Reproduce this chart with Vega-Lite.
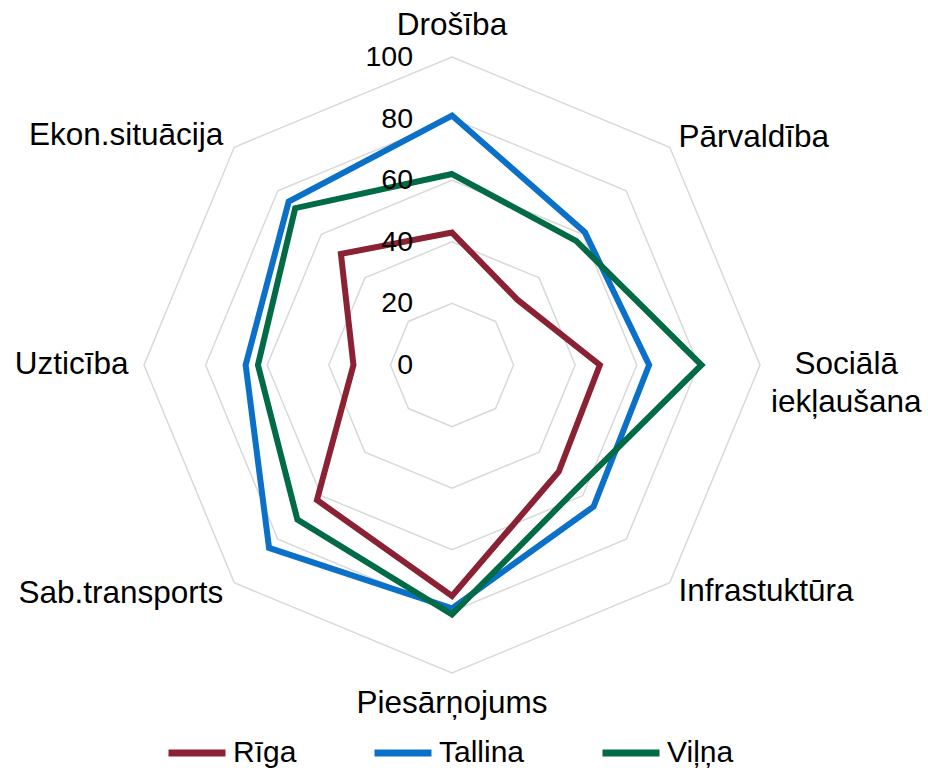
{
  "$schema": "https://vega.github.io/schema/vega-lite/v6.json",
  "width": 616,
  "height": 616,
  "autosize": {"type": "none"},
  "padding": {"left": 144, "top": 57, "right": 168, "bottom": 100},
  "background": "white",
  "config": {"view": {"stroke": null}, "font": "Liberation Sans"},
  "datasets": {
    "scores": [
      {"cat": "Drošība", "k": 0, "series": "Rīga", "value": 43},
      {"cat": "Pārvaldība", "k": 1, "series": "Rīga", "value": 30},
      {"cat": "Sociālā iekļaušana", "k": 2, "series": "Rīga", "value": 48},
      {"cat": "Infrastuktūra", "k": 3, "series": "Rīga", "value": 49},
      {"cat": "Piesārņojums", "k": 4, "series": "Rīga", "value": 75},
      {"cat": "Sab.transports", "k": 5, "series": "Rīga", "value": 62},
      {"cat": "Uzticība", "k": 6, "series": "Rīga", "value": 32},
      {"cat": "Ekon.situācija", "k": 7, "series": "Rīga", "value": 51},
      {"cat": "Drošība", "k": 0, "series": "Tallina", "value": 81},
      {"cat": "Pārvaldība", "k": 1, "series": "Tallina", "value": 61},
      {"cat": "Sociālā iekļaušana", "k": 2, "series": "Tallina", "value": 64},
      {"cat": "Infrastuktūra", "k": 3, "series": "Tallina", "value": 65},
      {"cat": "Piesārņojums", "k": 4, "series": "Tallina", "value": 79},
      {"cat": "Sab.transports", "k": 5, "series": "Tallina", "value": 84},
      {"cat": "Uzticība", "k": 6, "series": "Tallina", "value": 67},
      {"cat": "Ekon.situācija", "k": 7, "series": "Tallina", "value": 75},
      {"cat": "Drošība", "k": 0, "series": "Viļņa", "value": 62},
      {"cat": "Pārvaldība", "k": 1, "series": "Viļņa", "value": 57},
      {"cat": "Sociālā iekļaušana", "k": 2, "series": "Viļņa", "value": 81},
      {"cat": "Infrastuktūra", "k": 3, "series": "Viļņa", "value": 57},
      {"cat": "Piesārņojums", "k": 4, "series": "Viļņa", "value": 81},
      {"cat": "Sab.transports", "k": 5, "series": "Viļņa", "value": 71},
      {"cat": "Uzticība", "k": 6, "series": "Viļņa", "value": 63},
      {"cat": "Ekon.situācija", "k": 7, "series": "Viļņa", "value": 72}
    ],
    "cats": [
      {"label": "Drošība", "k": 0},
      {"label": "Pārvaldība", "k": 1},
      {"label": "Sociālā\niekļaušana", "k": 2},
      {"label": "Infrastuktūra", "k": 3},
      {"label": "Piesārņojums", "k": 4},
      {"label": "Sab.transports", "k": 5},
      {"label": "Uzticība", "k": 6},
      {"label": "Ekon.situācija", "k": 7}
    ],
    "rings": [
      {"ring": 20, "k": [0, 1, 2, 3, 4, 5, 6, 7]},
      {"ring": 40, "k": [0, 1, 2, 3, 4, 5, 6, 7]},
      {"ring": 60, "k": [0, 1, 2, 3, 4, 5, 6, 7]},
      {"ring": 80, "k": [0, 1, 2, 3, 4, 5, 6, 7]},
      {"ring": 100, "k": [0, 1, 2, 3, 4, 5, 6, 7]}
    ],
    "ticks": [
      {"v": 0}, {"v": 20}, {"v": 40}, {"v": 60}, {"v": 80}, {"v": 100}
    ]
  },
  "layer": [
    {
      "data": {"name": "rings"},
      "transform": [
        {"flatten": ["k"]},
        {"calculate": "datum.ring * sin(datum.k * PI / 4)", "as": "x"},
        {"calculate": "datum.ring * cos(datum.k * PI / 4)", "as": "y"}
      ],
      "mark": {"type": "line", "interpolate": "linear-closed", "stroke": "#d9d9d9", "strokeWidth": 1.5},
      "encoding": {
        "x": {"field": "x", "type": "quantitative", "scale": {"domain": [-100, 100], "nice": false, "zero": false}, "axis": null},
        "y": {"field": "y", "type": "quantitative", "scale": {"domain": [-100, 100], "nice": false, "zero": false}, "axis": null},
        "detail": {"field": "ring", "type": "nominal"},
        "order": {"field": "k", "type": "quantitative"}
      }
    },
    {
      "data": {"name": "scores"},
      "transform": [
        {"calculate": "datum.value * sin(datum.k * PI / 4)", "as": "x"},
        {"calculate": "datum.value * cos(datum.k * PI / 4)", "as": "y"}
      ],
      "mark": {"type": "line", "interpolate": "linear-closed", "strokeWidth": 6, "strokeJoin": "miter"},
      "encoding": {
        "x": {"field": "x", "type": "quantitative", "scale": {"domain": [-100, 100], "nice": false, "zero": false}, "axis": null},
        "y": {"field": "y", "type": "quantitative", "scale": {"domain": [-100, 100], "nice": false, "zero": false}, "axis": null},
        "stroke": {
          "field": "series", "type": "nominal",
          "scale": {"domain": ["Rīga", "Tallina", "Viļņa"], "range": ["#8A2233", "#0A70C8", "#006B45"]},
          "legend": {
            "orient": "none", "legendX": 21, "legendY": 664, "direction": "horizontal",
            "title": null, "symbolType": "stroke", "symbolSize": 3249, "symbolStrokeWidth": 7,
            "labelFontSize": 30, "labelFont": "Liberation Sans", "labelColor": "black",
            "columnPadding": 63, "labelOffset": 4, "padding": 0
          }
        },
        "order": {"field": "k", "type": "quantitative"}
      }
    },
    {
      "data": {"name": "ticks"},
      "mark": {"type": "text", "align": "right", "baseline": "middle", "dx": -39, "fontSize": 28.5, "font": "Liberation Sans", "color": "black"},
      "encoding": {
        "x": {"datum": 0, "type": "quantitative", "scale": {"domain": [-100, 100], "nice": false, "zero": false}, "axis": null},
        "y": {"field": "v", "type": "quantitative", "scale": {"domain": [-100, 100], "nice": false, "zero": false}, "axis": null},
        "text": {"field": "v", "type": "quantitative"}
      }
    },
    {
      "data": {"name": "cats"},
      "transform": [
        {"filter": "datum.k == 0 || datum.k == 2 || datum.k == 4"},
        {"calculate": "datum.k == 2 ? 128 : 110", "as": "r"},
        {"calculate": "datum.r * sin(datum.k * PI / 4)", "as": "x"},
        {"calculate": "datum.r * cos(datum.k * PI / 4)", "as": "y"}
      ],
      "mark": {"type": "text", "align": "center", "baseline": "middle", "fontSize": 31.5, "font": "Liberation Sans", "color": "black", "lineBreak": "\n", "lineHeight": 38},
      "encoding": {
        "x": {"field": "x", "type": "quantitative", "scale": {"domain": [-100, 100], "nice": false, "zero": false}, "axis": null},
        "y": {"field": "y", "type": "quantitative", "scale": {"domain": [-100, 100], "nice": false, "zero": false}, "axis": null},
        "text": {"field": "label", "type": "nominal"}
      }
    },
    {
      "data": {"name": "cats"},
      "transform": [
        {"filter": "datum.k == 1 || datum.k == 3"},
        {"calculate": "104 * sin(datum.k * PI / 4)", "as": "x"},
        {"calculate": "104 * cos(datum.k * PI / 4)", "as": "y"}
      ],
      "mark": {"type": "text", "align": "left", "baseline": "middle", "fontSize": 31.5, "font": "Liberation Sans", "color": "black"},
      "encoding": {
        "x": {"field": "x", "type": "quantitative", "scale": {"domain": [-100, 100], "nice": false, "zero": false}, "axis": null},
        "y": {"field": "y", "type": "quantitative", "scale": {"domain": [-100, 100], "nice": false, "zero": false}, "axis": null},
        "text": {"field": "label", "type": "nominal"}
      }
    },
    {
      "data": {"name": "cats"},
      "transform": [
        {"filter": "datum.k >= 5"},
        {"calculate": "105 * sin(datum.k * PI / 4)", "as": "x"},
        {"calculate": "105 * cos(datum.k * PI / 4)", "as": "y"}
      ],
      "mark": {"type": "text", "align": "right", "baseline": "middle", "fontSize": 31.5, "font": "Liberation Sans", "color": "black"},
      "encoding": {
        "x": {"field": "x", "type": "quantitative", "scale": {"domain": [-100, 100], "nice": false, "zero": false}, "axis": null},
        "y": {"field": "y", "type": "quantitative", "scale": {"domain": [-100, 100], "nice": false, "zero": false}, "axis": null},
        "text": {"field": "label", "type": "nominal"}
      }
    }
  ]
}
